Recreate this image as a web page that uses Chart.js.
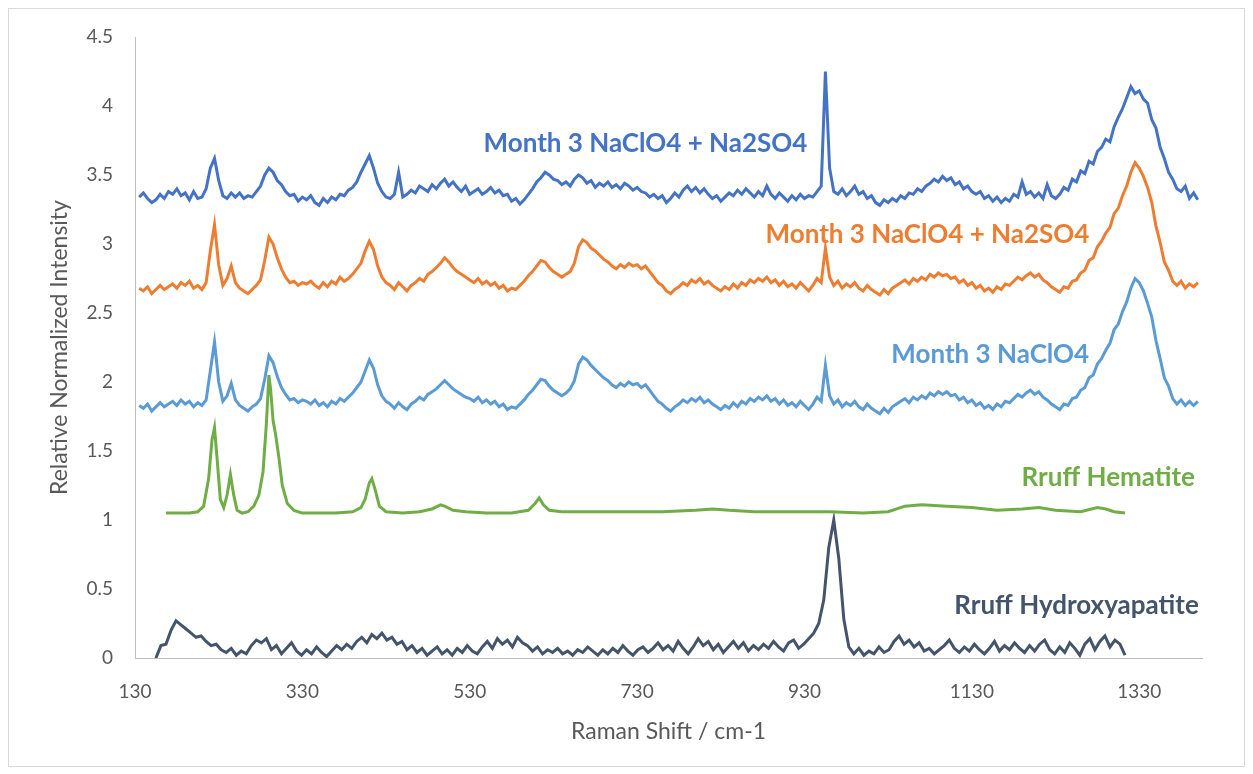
<!DOCTYPE html>
<html>
<head>
<meta charset="utf-8">
<script src="https://cdn.jsdelivr.net/npm/chart.js@4.4.1/dist/chart.umd.min.js"></script>
<style>
  html, body { margin: 0; padding: 0; background: #fff; }
  canvas { display: block; }
</style>
</head>
<body>
<canvas id="raman" width="1253" height="774"></canvas>
<script>
/* Raman spectra: three month-3 samples plus two RRUFF reference spectra.
   Month-3 spectra share one sampling grid (start + step), the references have their own. */

const xTicks = [130, 330, 530, 730, 930, 1130, 1330];

// month-3 spectra: 135 .. 1400 cm-1, every 5 cm-1
const monthShiftStart = 135;
const monthShiftStep = 5;

const mixedSpotA = [
  3.34,3.37,3.33,3.30,3.32,3.36,3.33,3.38,3.36,3.40,3.35,3.37,3.32,3.38,3.33,3.34,3.40,3.55,3.62,3.46,
  3.35,3.33,3.37,3.34,3.37,3.33,3.35,3.34,3.38,3.42,3.50,3.55,3.52,3.46,3.43,3.38,3.35,3.36,3.31,3.34,
  3.32,3.35,3.30,3.28,3.33,3.30,3.34,3.32,3.36,3.35,3.39,3.41,3.45,3.52,3.58,3.64,3.55,3.44,3.38,3.34,
  3.33,3.36,3.52,3.34,3.36,3.39,3.37,3.42,3.40,3.38,3.43,3.40,3.44,3.47,3.42,3.45,3.41,3.38,3.42,3.36,
  3.38,3.40,3.36,3.38,3.41,3.37,3.39,3.35,3.36,3.31,3.33,3.29,3.32,3.36,3.40,3.45,3.48,3.52,3.50,3.47,
  3.46,3.43,3.45,3.42,3.47,3.50,3.48,3.44,3.46,3.41,3.44,3.42,3.45,3.41,3.43,3.40,3.44,3.42,3.39,3.41,
  3.38,3.37,3.34,3.36,3.33,3.35,3.30,3.33,3.37,3.34,3.39,3.42,3.38,3.41,3.37,3.40,3.36,3.33,3.35,3.31,
  3.34,3.37,3.35,3.39,3.36,3.40,3.37,3.34,3.38,3.35,3.42,3.36,3.33,3.37,3.34,3.31,3.35,3.32,3.36,3.33,
  3.35,3.34,3.38,3.42,4.25,3.55,3.38,3.36,3.40,3.35,3.38,3.42,3.36,3.38,3.33,3.35,3.30,3.28,3.32,3.30,
  3.33,3.31,3.35,3.33,3.37,3.36,3.40,3.38,3.42,3.44,3.47,3.45,3.49,3.46,3.48,3.43,3.45,3.40,3.42,3.38,
  3.36,3.38,3.33,3.35,3.31,3.34,3.30,3.33,3.31,3.36,3.34,3.45,3.36,3.38,3.34,3.37,3.33,3.43,3.35,3.33,
  3.36,3.41,3.39,3.47,3.45,3.53,3.51,3.60,3.58,3.67,3.70,3.76,3.74,3.85,3.92,3.98,4.06,4.14,4.09,4.11,
  4.05,4.02,3.90,3.84,3.70,3.62,3.52,3.47,3.40,3.38,3.42,3.33,3.37,3.32
];

const mixedSpotB = [
  2.68,2.66,2.69,2.64,2.67,2.70,2.67,2.69,2.71,2.68,2.72,2.70,2.73,2.68,2.70,2.67,2.72,2.95,3.14,2.85,
  2.70,2.75,2.84,2.72,2.68,2.66,2.64,2.67,2.70,2.74,2.88,3.05,3.00,2.90,2.82,2.76,2.72,2.73,2.70,2.72,
  2.71,2.73,2.70,2.68,2.72,2.69,2.73,2.71,2.76,2.73,2.75,2.78,2.82,2.86,2.95,3.02,2.96,2.84,2.76,2.72,
  2.70,2.67,2.72,2.69,2.66,2.70,2.72,2.75,2.73,2.78,2.80,2.83,2.86,2.90,2.87,2.83,2.80,2.78,2.76,2.74,
  2.72,2.75,2.71,2.73,2.70,2.72,2.68,2.70,2.66,2.68,2.67,2.70,2.73,2.77,2.80,2.84,2.88,2.87,2.83,2.80,
  2.78,2.76,2.78,2.80,2.86,2.98,3.03,3.01,2.97,2.95,2.92,2.89,2.87,2.84,2.82,2.85,2.83,2.86,2.84,2.85,
  2.82,2.84,2.80,2.76,2.72,2.70,2.66,2.64,2.67,2.69,2.72,2.70,2.74,2.72,2.75,2.71,2.73,2.70,2.68,2.66,
  2.69,2.67,2.71,2.68,2.72,2.70,2.74,2.72,2.75,2.73,2.76,2.72,2.74,2.70,2.73,2.69,2.71,2.68,2.72,2.69,
  2.66,2.70,2.75,2.72,2.97,2.76,2.70,2.73,2.68,2.71,2.69,2.72,2.68,2.66,2.70,2.67,2.65,2.63,2.67,2.64,
  2.68,2.70,2.72,2.74,2.71,2.75,2.73,2.76,2.74,2.78,2.76,2.79,2.77,2.78,2.75,2.76,2.72,2.74,2.70,2.72,
  2.68,2.70,2.66,2.68,2.65,2.69,2.67,2.71,2.70,2.73,2.76,2.74,2.77,2.79,2.76,2.78,2.74,2.72,2.69,2.67,
  2.65,2.69,2.68,2.73,2.74,2.79,2.81,2.88,2.90,2.98,3.02,3.08,3.12,3.22,3.26,3.35,3.42,3.52,3.59,3.55,
  3.49,3.41,3.30,3.13,3.01,2.87,2.81,2.73,2.70,2.73,2.68,2.71,2.69,2.72
];

const perchlorateOnly = [
  1.83,1.81,1.84,1.79,1.82,1.85,1.82,1.84,1.86,1.83,1.87,1.84,1.86,1.82,1.85,1.83,1.87,2.08,2.29,2.00,
  1.86,1.90,1.99,1.87,1.83,1.81,1.79,1.82,1.84,1.88,2.02,2.19,2.14,2.04,1.96,1.91,1.87,1.88,1.85,1.87,
  1.86,1.84,1.87,1.83,1.85,1.82,1.86,1.84,1.88,1.86,1.89,1.92,1.96,2.00,2.08,2.16,2.10,1.98,1.90,1.86,
  1.84,1.81,1.85,1.82,1.80,1.84,1.86,1.89,1.87,1.91,1.93,1.95,1.98,2.01,1.98,1.95,1.93,1.91,1.89,1.88,
  1.86,1.89,1.85,1.87,1.84,1.86,1.82,1.84,1.80,1.82,1.81,1.84,1.87,1.91,1.94,1.98,2.02,2.01,1.97,1.94,
  1.92,1.90,1.92,1.95,2.01,2.13,2.18,2.16,2.12,2.09,2.06,2.03,2.01,1.98,1.96,1.99,1.97,2.00,1.98,1.99,
  1.96,1.98,1.94,1.90,1.86,1.84,1.81,1.79,1.82,1.84,1.87,1.85,1.88,1.86,1.89,1.85,1.87,1.84,1.82,1.80,
  1.83,1.81,1.85,1.82,1.86,1.84,1.88,1.86,1.89,1.87,1.90,1.86,1.88,1.84,1.87,1.83,1.85,1.82,1.86,1.83,
  1.80,1.84,1.89,1.86,2.12,1.90,1.84,1.87,1.82,1.85,1.83,1.86,1.82,1.80,1.84,1.81,1.79,1.77,1.81,1.78,
  1.82,1.84,1.86,1.88,1.85,1.89,1.87,1.90,1.88,1.92,1.90,1.93,1.91,1.93,1.90,1.91,1.87,1.89,1.85,1.87,
  1.83,1.85,1.81,1.83,1.80,1.84,1.82,1.86,1.85,1.88,1.91,1.89,1.92,1.94,1.91,1.93,1.89,1.87,1.84,1.82,
  1.80,1.84,1.83,1.88,1.89,1.94,1.96,2.03,2.05,2.13,2.17,2.23,2.28,2.38,2.42,2.51,2.58,2.68,2.75,2.72,
  2.66,2.57,2.47,2.30,2.17,2.03,1.97,1.88,1.84,1.87,1.83,1.86,1.83,1.86
];

// RRUFF hematite, smooth reference spectrum
const hematiteShift = [
  167,180,195,205,212,218,222,225,228,232,236,240,244,248,252,258,265,272,278,283,
  287,290,292,295,298,302,306,312,320,330,350,370,390,400,405,410,413,417,422,430,
  450,470,485,495,500,510,525,550,580,600,608,613,618,625,640,680,720,760,800,820,
  840,870,920,960,1000,1030,1050,1070,1100,1130,1160,1190,1210,1230,1260,1280,1290,1300,1313
];
const hematite = [
  1.05,1.05,1.05,1.06,1.10,1.30,1.58,1.67,1.45,1.15,1.09,1.18,1.33,1.18,1.07,1.05,1.06,1.10,1.18,1.35,
  1.70,2.05,1.95,1.72,1.62,1.45,1.25,1.12,1.07,1.05,1.05,1.05,1.06,1.09,1.15,1.27,1.30,1.22,1.10,1.06,
  1.05,1.06,1.08,1.11,1.10,1.07,1.06,1.05,1.05,1.07,1.12,1.16,1.11,1.07,1.06,1.06,1.06,1.06,1.07,1.08,
  1.07,1.06,1.06,1.06,1.05,1.06,1.10,1.11,1.10,1.09,1.07,1.08,1.09,1.07,1.06,1.09,1.08,1.06,1.05
];

// RRUFF hydroxyapatite: 155 .. 1313 cm-1, every 6 cm-1
const hydroxyShiftStart = 155;
const hydroxyShiftStep = 6;
const hydroxyapatite = [
  0.00,0.09,0.10,0.20,0.27,0.24,0.21,0.18,0.15,0.16,0.12,0.09,0.10,0.06,0.04,0.07,0.02,0.05,0.03,0.09,
  0.13,0.11,0.14,0.06,0.09,0.03,0.07,0.11,0.05,0.02,0.06,0.03,0.08,0.04,0.01,0.05,0.09,0.06,0.10,0.07,
  0.12,0.15,0.11,0.17,0.14,0.18,0.13,0.15,0.10,0.12,0.06,0.09,0.04,0.07,0.02,0.05,0.08,0.03,0.06,0.02,
  0.07,0.04,0.09,0.05,0.03,0.08,0.12,0.07,0.14,0.10,0.13,0.08,0.15,0.11,0.09,0.05,0.08,0.03,0.06,0.04,
  0.07,0.03,0.05,0.02,0.06,0.04,0.08,0.05,0.02,0.06,0.03,0.07,0.04,0.09,0.05,0.02,0.06,0.08,0.04,0.07,
  0.11,0.06,0.09,0.05,0.12,0.07,0.03,0.08,0.14,0.09,0.12,0.06,0.10,0.04,0.08,0.12,0.07,0.11,0.05,0.09,
  0.06,0.10,0.07,0.12,0.08,0.05,0.11,0.13,0.07,0.10,0.14,0.18,0.25,0.42,0.80,1.00,0.72,0.28,0.08,0.03,
  0.07,0.02,0.05,0.03,0.08,0.04,0.06,0.12,0.16,0.10,0.13,0.08,0.11,0.05,0.07,0.03,0.06,0.09,0.13,0.07,
  0.04,0.08,0.05,0.10,0.06,0.03,0.07,0.12,0.05,0.09,0.06,0.11,0.07,0.04,0.09,0.05,0.10,0.13,0.06,0.03,
  0.08,0.04,0.11,0.07,0.02,0.10,0.14,0.06,0.12,0.16,0.08,0.13,0.10,0.02
];

const seriesNames = [
  'Month 3 NaClO4 + Na2SO4',
  'Month 3 NaClO4 + Na2SO4',
  'Month 3 NaClO4',
  'Rruff Hematite',
  'Rruff Hydroxyapatite'
];
const seriesColors = ['#4472C4', '#ED7D31', '#5B9BD5', '#70AD47', '#44546A'];

const FONT = 'Lato, "Open Sans", sans-serif';
const GREY = '#595959';

function gridPoints(start, step, values){
  return values.map((y, i) => ({ x: start + i * step, y }));
}
function pairedPoints(xs, values){
  return values.map((y, i) => ({ x: xs[i], y }));
}

const spectra = [
  gridPoints(monthShiftStart, monthShiftStep, mixedSpotA),
  gridPoints(monthShiftStart, monthShiftStep, mixedSpotB),
  gridPoints(monthShiftStart, monthShiftStep, perchlorateOnly),
  pairedPoints(hematiteShift, hematite),
  gridPoints(hydroxyShiftStart, hydroxyShiftStep, hydroxyapatite)
];

// where each series name sits, in axis units (centre of the text)
const labelAnchors = [
  { x: 740, y: 3.73 },
  { x: 1077, y: 3.07 },
  { x: 1152, y: 2.20 },
  { x: 1293, y: 1.31 },
  { x: 1255, y: 0.38 }
];

const frame = {
  id: 'frame',
  beforeDraw(chart){
    const { ctx, width, height } = chart;
    ctx.save();
    ctx.fillStyle = '#fff';
    ctx.fillRect(0, 0, width, height);
    ctx.strokeStyle = '#D9D9D9';
    ctx.lineWidth = 1;
    ctx.strokeRect(8.5, 8.5, width - 17, height - 16);
    ctx.restore();
  }
};

const seriesLabels = {
  id: 'seriesLabels',
  afterDatasetsDraw(chart){
    const { ctx, scales: { x, y } } = chart;
    ctx.save();
    ctx.font = 'bold 26px ' + FONT;
    ctx.textAlign = 'center';
    ctx.textBaseline = 'middle';
    labelAnchors.forEach((a, i) => {
      ctx.fillStyle = seriesColors[i];
      ctx.fillText(seriesNames[i], x.getPixelForValue(a.x), y.getPixelForValue(a.y));
    });
    ctx.restore();
  }
};

new Chart(document.getElementById('raman'), {
  type: 'scatter',
  data: {
    datasets: spectra.map((pts, i) => ({
      label: seriesNames[i],
      data: pts,
      showLine: true,
      borderColor: seriesColors[i],
      backgroundColor: seriesColors[i],
      borderWidth: 3,
      pointRadius: 0,
      tension: 0,
      order: i === 3 ? 0 : i + 1
    }))
  },
  options: {
    responsive: false,
    animation: false,
    layout: { padding: { left: 42, top: 37, right: 51, bottom: 25 } },
    plugins: {
      legend: { display: false },
      tooltip: { enabled: false }
    },
    scales: {
      x: {
        type: 'linear',
        min: 130,
        max: 1405,
        afterBuildTicks(scale){ scale.ticks = xTicks.map(v => ({ value: v })); },
        afterFit(scale){ scale.height = 91; },
        grid: { display: false, drawTicks: false },
        border: { color: '#BFBFBF', width: 1 },
        ticks: { color: GREY, font: { family: FONT, size: 19 }, padding: 22, maxRotation: 0, autoSkip: false, callback: v => String(v) },
        title: { display: true, text: 'Raman Shift / cm-1', color: GREY, font: { family: FONT, size: 23 }, padding: { top: 4, bottom: 4 } }
      },
      y: {
        min: 0,
        max: 4.5,
        afterFit(scale){ scale.width = 93; },
        grid: { display: false, drawTicks: false },
        border: { color: '#BFBFBF', width: 1 },
        ticks: { stepSize: 0.5, color: GREY, font: { family: FONT, size: 19 }, padding: 22, callback: v => String(v) },
        title: { display: true, text: 'Relative Normalized Intensity', color: GREY, font: { family: FONT, size: 23 }, padding: { top: 4, bottom: 4 } }
      }
    }
  },
  plugins: [frame, seriesLabels]
});
</script>
</body>
</html>
